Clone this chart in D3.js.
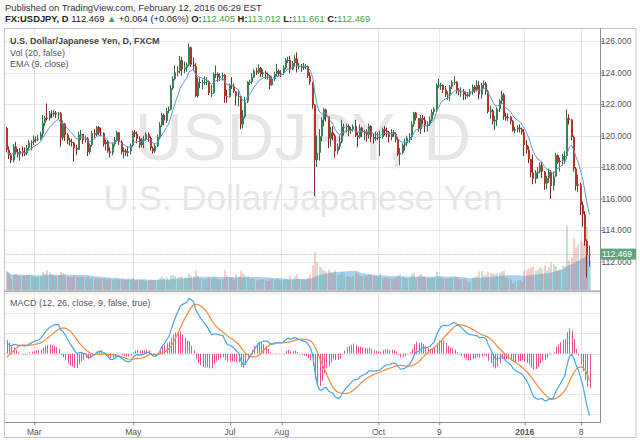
<!DOCTYPE html>
<html><head><meta charset="utf-8">
<script src="https://cdn.jsdelivr.net/npm/d3@7"></script>
<style>body{margin:0;background:#fff;}svg{display:block;font-family:"Liberation Sans",Arial,sans-serif;}</style>
</head><body><svg id="c" width="640" height="440"></svg>
<script>
// ---------------- data ----------------
const startDate = "2015-02-12";
const holidays = ["2015-12-25", "2016-01-01"];
const firstOpen = 120.48;
const close = [
119.10,118.75,118.42,119.30,118.95,118.80,119.00,118.90,118.88,119.22,119.55,119.60,
119.75,119.75,119.80,120.10,120.80, 121.12,121.10,121.40,121.35,121.45,
121.35,121.40,119.85,120.75,120.05, 119.70,119.60,119.55,119.20,119.10,
120.05,120.10,119.70,119.80,118.95, 119.40,120.15,120.05,120.55,120.20,
120.15,119.45,119.60,119.00,118.90, 119.45,119.70,120.20,119.60,118.95,
119.05,118.90,119.00,119.35,120.20, 120.10,119.80,119.40,119.75,119.75,
120.10,119.85,119.20,119.00,119.35, 119.90,120.65,121.30,120.95,121.55,
121.65,123.00,123.60,124.00,124.10, 124.80,124.20,124.30,124.50,125.60,
124.50,124.40,122.50,123.40,123.40, 123.40,123.40,123.45,122.70,122.70,
123.90,123.90,123.70,123.75,123.85, 122.50,122.45,123.20,123.15,122.80,
122.50,122.50,120.70,121.20,122.15, 123.40,123.40,123.70,124.10,124.00,
124.30,123.90,124.00,123.90,123.80, 123.20,123.60,123.90,124.10,123.90,
123.95,124.30,124.80,124.80,124.20, 124.60,124.90,124.40,124.40,124.30,
124.40,124.40,123.80,123.40,121.95, 118.45,118.90,119.95,121.00,121.65,
121.20,119.80,120.20,120.00,119.00, 119.30,119.60,120.55,120.55,120.60,
120.30,120.40,120.60,120.00,119.90, 120.50,120.20,120.20,120.05,120.60,
119.90,119.80,119.85,119.90,119.90, 120.40,120.30,120.20,119.90,120.20,
120.10,119.75,118.80,118.90,119.40, 119.50,119.85,119.90,120.70,121.45,
121.10,120.40,121.10,121.00,120.60, 120.70,121.00,121.50,121.70,123.20,
123.20,123.20,122.90,122.60,122.60, 123.10,123.40,123.40,122.90,122.80,
122.80,122.60,122.50,122.60,122.80, 123.10,122.90,123.20,122.60,123.20,
123.30,122.80,121.50,121.60,120.90, 121.00,121.70,122.20,122.60,121.20,
121.10,121.20,120.90,120.30, 120.40,120.50,120.40,120.20,
119.40,119.10,118.50,117.65,117.25, 117.65,117.70,118.10,117.70,116.95,
117.30,117.70,116.80,117.40,118.75, 118.30,118.40,118.70,118.70,121.10,
121.00,119.90,117.90,116.80,116.90, 115.60,115.00,113.30,112.405,112.469];
const high = [
120.55,119.30,118.90,119.45,119.60,119.15,119.20,119.30,119.25,119.40,119.70,119.70,
120.00,119.95,120.05,120.25,121.30, 121.25,122.03,121.55,121.60,121.60,
121.55,121.50,121.50,120.95,120.80, 120.15,119.85,119.80,119.60,119.40,
120.25,120.35,120.10,120.00,119.90, 119.50,120.30,120.40,120.60,120.60,
120.50,120.20,119.75,119.70,119.25, 119.55,119.90,120.30,120.20,119.70,
119.25,119.15,119.30,119.50,120.30, 120.35,120.25,119.95,119.85,120.00,
120.20,120.20,119.95,119.30,119.45, 120.05,120.85,121.45,121.40,121.75,
121.85,123.20,123.75,124.45,124.40, 125.05,125.00,124.70,124.65,125.86,
125.65,124.95,124.60,123.70,123.70, 123.55,123.75,123.70,123.50,123.20,
124.00,124.45,124.00,123.95,124.00, 123.90,122.90,123.30,123.70,123.30,
122.80,122.90,122.50,121.60,122.45, 123.45,123.55,123.95,124.20,124.30,
124.50,124.35,124.20,124.10,124.00, 123.85,123.75,124.05,124.55,124.20,
124.15,124.45,124.90,125.00,125.05, 124.75,125.10,125.28,124.60,124.55,
124.60,124.55,124.45,124.00,123.40, 122.00,120.00,120.40,121.15,121.75,
121.70,121.20,120.55,120.60,120.10, 119.50,120.00,121.00,120.75,120.75,
120.70,120.55,120.70,121.00,120.20, 120.70,120.55,120.35,120.40,120.75,
120.65,120.10,120.25,120.20,120.30, 120.50,120.60,120.50,120.30,120.40,
120.35,120.20,119.85,119.20,119.50, 119.80,120.00,120.15,120.90,121.50,
121.50,121.10,121.30,121.30,121.20, 120.90,121.20,121.65,121.80,123.30,
123.60,123.35,123.25,123.15,122.80, 123.20,123.50,123.76,123.45,123.00,
123.05,122.95,122.80,122.75,122.95, 123.25,123.20,123.50,123.45,123.35,
123.50,123.40,122.90,121.90,121.70, 121.25,121.80,122.30,122.85,122.70,
121.45,121.40,121.25,121.00, 120.55,120.65,120.70,120.50,
120.40,119.70,119.30,118.50,118.80, 117.80,118.00,118.30,118.35,117.75,
117.45,117.90,117.80,117.70,118.90, 118.80,118.60,118.85,119.00,121.65,
121.35,121.05,120.00,118.00,117.50, 117.00,115.80,115.20,113.40,113.012];
const low = [
118.95,118.50,118.25,118.30,118.80,118.60,118.40,118.65,118.70,118.75,119.10,119.05,
119.40,119.55,119.65,119.70,119.90, 120.60,120.95,120.95,121.10,121.20,
121.10,121.05,119.30,119.70,119.65, 119.45,119.35,119.30,118.35,118.75,
119.10,119.70,119.45,119.55,118.70, 118.80,119.30,119.85,119.95,120.05,
119.95,119.30,119.05,118.90,118.60, 118.75,119.30,119.60,119.40,118.80,
118.55,118.70,118.65,118.80,119.30, 119.90,119.50,119.20,119.25,119.20,
119.70,119.60,119.05,118.85,118.90, 119.25,119.80,120.55,120.65,120.80,
121.40,121.60,122.90,123.50,123.75, 123.95,123.80,123.95,124.05,124.40,
124.35,124.10,122.45,122.40,123.00, 122.95,123.20,123.20,122.55,122.45,
122.65,123.65,123.40,123.45,123.50, 122.10,122.10,122.40,122.95,122.70,
121.90,121.85,120.40,120.45,121.10, 122.05,123.20,123.25,123.65,123.85,
123.90,123.70,123.70,123.60,123.55, 122.95,123.15,123.45,123.75,123.75,
123.70,123.85,124.20,124.60,123.95, 124.15,124.40,124.00,124.20,124.05,
124.15,124.20,123.65,123.20,121.70, 116.15,118.00,118.40,119.65,120.60,
120.90,119.20,119.30,119.70,118.60, 118.80,119.10,119.50,120.00,120.20,
119.95,120.10,120.25,119.90,119.25, 119.80,119.90,119.70,119.60,119.80,
119.60,119.50,119.65,119.70,118.70, 119.80,120.00,119.90,119.55,119.70,
119.90,119.55,118.70,118.10,118.80, 119.05,119.30,119.55,119.70,120.55,
120.95,120.25,120.10,120.70,120.20, 120.25,120.60,120.90,121.30,121.50,
123.00,122.90,122.70,122.45,122.25, 122.20,122.95,123.20,122.65,122.55,
122.45,122.25,122.30,122.40,122.45, 122.60,122.70,122.80,122.30,122.30,
122.95,122.60,121.40,121.05,120.70, 120.35,120.60,121.50,122.00,121.00,
120.95,120.90,120.70,120.25, 120.15,120.20,120.20,120.05,
118.70,118.85,118.25,117.35,116.90, 116.95,117.25,117.60,117.30,116.55,
116.60,117.00,115.97,116.50,117.40, 118.20,117.70,118.10,118.20,118.50,
120.70,119.70,117.70,116.50,116.40, 114.95,114.20,113.00,110.98,111.661];
const volume = [
190,170,120,160,165,150,140,150,145,155,160,150,
140,135,140,150,185, 170,205,180,160,150,
140,150,185,175,160, 140,135,130,150,140,
135,140,130,125,145, 125,130,120,125,120,
115,120,110,115,110, 105,110,115,110,115,
100,105,110,105,125, 100,105,110,100,115,
95,100,110,105,100, 110,125,140,120,130,
100,150,155,145,130, 135,140,125,130,170,
145,140,200,150,120, 115,110,120,130,115,
140,120,110,105,110, 200,150,130,125,100,
160,140,200,170,150, 140,115,120,110,100,
105,110,110,100,95, 115,110,105,120,105,
100,105,120,110,150, 120,140,160,120,110,
110,105,130,160,250, 390,280,240,220,200,
190,210,180,170,200, 150,160,190,160,140,
140,130,150,180,170, 150,140,150,145,160,
155,145,140,135,170, 120,130,125,120,120,
115,130,150,160,145, 125,120,130,170,180,
130,150,165,140,140, 125,120,135,130,190,
140,130,125,120,115, 125,130,140,130,115,
110,115,110,80,90, 130,140,145,190,195,
150,160,190,175,170, 165,170,175,190,200,
130,120,110,70, 90,100,105,85,
200,210,220,230,240, 200,210,230,220,250,
200,230,280,260,240, 200,210,250,240,650,
300,330,520,430,460, 500,480,520,640,300];
// closes before the first visible bar (indicator history only)
const priorClose = [117.7,116.8,118.7,119.1,119.5,120.0,120.8,120.4,120.4,120.2,119.6,119.8,120.5,
119.6,118.5,119.2,119.7,118.5,118.6,117.9,117.2,116.1,117.5,117.5,118.9,118.0,118.5,117.7,118.3,
117.8,117.5,118.4,117.5,117.4,117.6,117.3,117.5,119.1,118.6,119.9,120.48];
const priceTicks = [112,114,116,118,120,122,124,126];
const priceTickLabels = ["112.000","114.000","116.000","118.000","120.000","122.000","124.000","126.000"];
const macdTicks = [-1.5,-1,-0.5,0,0.5,1,1.5];
const macdTickLabels = ["-1.5000","-1.0000","-0.5000","0.0000","0.5000","1.0000","1.5000"];
const timeTickDates = ["2015-03-02","2015-05-01","2015-07-01","2015-08-03","2015-10-01","2015-11-09","2016-01-04","2016-02-08"];
const timeTickLabels = ["Mar","May","Jul","Aug","Oct","9","2016","8"];
const lastPrice = 112.469;

// ---------------- derived ----------------
const dates = [];
{ let d = new Date(startDate + "T00:00:00Z");
  while (dates.length < close.length) {
    const s = d.toISOString().slice(0,10), w = d.getUTCDay();
    if (w !== 0 && w !== 6 && !holidays.includes(s)) dates.push(s);
    d = new Date(d.getTime() + 864e5);
  } }
const open = close.map((c,i) => i === 0 ? firstOpen : close[i-1]);
function ema(a,n){const k=2/(n+1);let p;return a.map((v,i)=>(p = i===0? v : v*k + p*(1-k)));}
function sma(a,n){return a.map((v,i)=>{const s=a.slice(Math.max(0,i-n+1),i+1);return d3.mean(s);});}
const allClose = priorClose.concat(close);
const e12 = ema(allClose,12), e26 = ema(allClose,26);
const macdAll = e12.map((v,i)=>v-e26[i]);
const sigAll = sma(macdAll,9);
const P = priorClose.length;
const macd = macdAll.slice(P), signal = sigAll.slice(P);
const hist = macd.map((v,i)=>v-signal[i]);
const ema9 = ema(allClose,9).slice(P);
const volMA = sma(volume,20);

// ---------------- layout ----------------
const svg = d3.select("#c");
const L = 4.5, R = 600.5, mainTop = 28.5, mainBot = 290.5, macdTop = 292, macdBot = 422.5;
const x = d3.scaleLinear().domain([0, close.length-1]).range([6.75, 6.75 + 2.25*(close.length-1)]);
const y = d3.scaleLinear().domain([112,126]).range([261.5,41]);
const yv = d3.scaleLinear().domain([0,700]).range([mainBot,220.5]);
const ym = d3.scaleLinear().domain([-1,1]).range([394,313.3]);

svg.append("rect").attr("width",640).attr("height",440).attr("fill","#fff");
const defs = svg.append("defs");
defs.append("clipPath").attr("id","cm").append("rect").attr("x",L).attr("y",mainTop).attr("width",R-L).attr("height",mainBot-mainTop);
defs.append("clipPath").attr("id","cd").append("rect").attr("x",L).attr("y",macdTop).attr("width",R-L).attr("height",macdBot-macdTop);
defs.append("clipPath").attr("id","cda").append("rect").attr("x",R).attr("y",macdTop).attr("width",40).attr("height",macdBot-macdTop+6);

// grid
const tickIdx = timeTickDates.map(d => dates.indexOf(d));
const grid = svg.append("g").attr("stroke","#e8e8e8").attr("stroke-width",1);
tickIdx.forEach(i => grid.append("line").attr("x1",Math.round(x(i))+0.5).attr("x2",Math.round(x(i))+0.5).attr("y1",mainTop).attr("y2",macdBot));
priceTicks.forEach(p => grid.append("line").attr("x1",L).attr("x2",R).attr("y1",Math.round(y(p))+0.5).attr("y2",Math.round(y(p))+0.5));
macdTicks.forEach(m => grid.append("line").attr("x1",L).attr("x2",R).attr("y1",Math.round(ym(m))+0.5).attr("y2",Math.round(ym(m))+0.5).attr("clip-path","url(#cd)"));

// watermark
svg.append("text").attr("x",303).attr("y",160).attr("text-anchor","middle").attr("font-size",66).attr("fill","#e6e6e6").text("USDJPY, D");
svg.append("text").attr("x",303).attr("y",210).attr("text-anchor","middle").attr("font-size",35).attr("fill","#e6e6e6").text("U.S. Dollar/Japanese Yen");

// volume
const gm = svg.append("g").attr("clip-path","url(#cm)");
gm.append("path").datum(volMA).attr("fill","rgba(80,165,225,0.5)").attr("stroke","none")
  .attr("d", d3.area().x((d,i)=>x(i)).y0(mainBot).y1(d=>yv(d)).curve(d3.curveLinear));
gm.selectAll("rect.v").data(volume).join("rect")
  .attr("x",(d,i)=>Math.round(x(i))-1).attr("width",2)
  .attr("y",d=>yv(d)).attr("height",d=>mainBot-yv(d))
  .attr("fill",(d,i)=> close[i] >= open[i] ? "rgba(107,165,131,0.35)" : "rgba(215,84,66,0.28)");

// dotted last price line
gm.append("line").attr("x1",L).attr("x2",R).attr("y1",Math.round(y(lastPrice))+0.5).attr("y2",Math.round(y(lastPrice))+0.5)
  .attr("stroke","#7fae93").attr("stroke-dasharray","1,2");

// candles
close.forEach((c,i)=>{
  const up = c >= open[i];
  const cx = Math.round(x(i));
  gm.append("line").attr("x1",cx-0.5).attr("x2",cx-0.5).attr("y1",y(high[i])).attr("y2",y(low[i]))
    .attr("stroke", up ? "#2d6a48" : "#7a2a22").attr("stroke-width",1);
  const t = y(Math.max(c,open[i])), b = y(Math.min(c,open[i]));
  gm.append("rect").attr("x",cx-1).attr("width",2).attr("y",t).attr("height",Math.max(1,b-t))
    .attr("fill", up ? "#3c7f59" : "#b3352b");
});
// EMA 9
gm.append("path").datum(ema9).attr("fill","none").attr("stroke","#5b97d0").attr("stroke-width",1)
  .attr("d", d3.line().x((d,i)=>x(i)).y(d=>y(d)));

// MACD pane
const gd = svg.append("g").attr("clip-path","url(#cd)");
gd.selectAll("line.h").data(hist).join("line")
  .attr("x1",(d,i)=>Math.round(x(i))+0.5).attr("x2",(d,i)=>Math.round(x(i))+0.5)
  .attr("y1",ym(0)).attr("y2",d=>ym(d)).attr("stroke","#ee4f97").attr("stroke-width",1);
gd.append("path").datum(signal).attr("fill","none").attr("stroke","#f28a3a").attr("stroke-width",1.2)
  .attr("d", d3.line().x((d,i)=>x(i)).y(d=>ym(d)));
gd.append("path").datum(macd).attr("fill","none").attr("stroke","#45a6e6").attr("stroke-width",1.2)
  .attr("d", d3.line().x((d,i)=>x(i)).y(d=>ym(d)));

// pane separator, frame and axes
svg.append("rect").attr("x",L).attr("y",290.5).attr("width",R-L).attr("height",1.5).attr("fill","#a9a9a9");
svg.append("rect").attr("x",L).attr("y",mainTop).attr("width",636-L).attr("height",437.5-mainTop).attr("fill","none").attr("stroke","#c4c4c4");
svg.append("line").attr("x1",R).attr("x2",R).attr("y1",mainTop).attr("y2",macdBot).attr("stroke","#8e8e8e");
svg.append("line").attr("x1",L).attr("x2",R).attr("y1",macdBot).attr("y2",macdBot).attr("stroke","#8e8e8e");

// price axis (d3 axis)
const ax = svg.append("g").attr("transform",`translate(${R},0)`)
  .call(d3.axisRight(y).tickValues(priceTicks).tickFormat((d,i)=>priceTickLabels[i]).tickSize(3).tickPadding(28));
ax.select(".domain").remove();
ax.selectAll("line").attr("stroke","#8e8e8e");
ax.selectAll("text").attr("text-anchor","end").attr("font-size",8.5).attr("fill","#555").attr("font-family","Liberation Sans, Arial");

// last price label (drawn over the 112.000 label, as in the original)
svg.append("rect").attr("x",R+0.5).attr("y",y(lastPrice)-5.5).attr("width",35).attr("height",11).attr("fill","#5fa57e");
svg.append("text").attr("x",632).attr("y",y(lastPrice)+3).attr("text-anchor","end").attr("font-size",8.5).attr("fill","#fff").text(lastPrice.toFixed(3));

const am = svg.append("g").attr("transform",`translate(${R},0)`).attr("clip-path","url(#cda)")
  .call(d3.axisRight(ym).tickValues(macdTicks).tickFormat((d,i)=>macdTickLabels[i]).tickSize(3).tickPadding(28));
am.select(".domain").remove();
am.selectAll("line").attr("stroke","#8e8e8e");
am.selectAll("text").attr("text-anchor","end").attr("font-size",8.5).attr("fill","#555").attr("font-family","Liberation Sans, Arial");

// time axis
const xt = svg.append("g").attr("transform",`translate(0,${macdBot})`)
  .call(d3.axisBottom(x).tickValues(tickIdx).tickFormat((d,i)=>timeTickLabels[i]).tickSize(3).tickPadding(3));
xt.select(".domain").remove();
xt.selectAll("line").attr("stroke","#8e8e8e").attr("transform","translate(0.5,0)");
xt.selectAll("text").attr("font-size",8.5).attr("fill","#555").attr("font-family","Liberation Sans, Arial")
  .attr("font-weight",(d,i)=> timeTickLabels[i]==="2016" ? "bold" : "normal");

// legends
const lg = svg.append("g").attr("font-size",9).attr("fill","#555");
lg.append("text").attr("x",10).attr("y",44).attr("font-weight","bold").attr("fill","#444").text("U.S. Dollar/Japanese Yen, D, FXCM");
lg.append("text").attr("x",10).attr("y",56).text("Vol (20, false)");
lg.append("text").attr("x",10).attr("y",67).text("EMA (9, close)");
lg.append("text").attr("x",10).attr("y",306).text("MACD (12, 26, close, 9, false, true)");

// header
svg.append("text").attr("x",5).attr("y",11).attr("font-size",9.4).attr("fill","#333").text("Published on TradingView.com, February 12, 2016 06:29 EST");
const h2 = svg.append("text").attr("x",5).attr("y",22).attr("font-size",9.4).attr("fill","#222");
h2.append("tspan").attr("font-weight","bold").text("FX:USDJPY, D ");
h2.append("tspan").text("112.469 ");
h2.append("tspan").attr("fill","#3fa34d").text("▲");
h2.append("tspan").text(" +0.064 (+0.06%) ");
[["O:","112.405"],["H:","113.012"],["L:","111.661"],["C:","112.469"]].forEach(([k,v],i)=>{
  h2.append("tspan").attr("font-weight","bold").text((i? " ":"")+k);
  h2.append("tspan").attr("fill","#3fa34d").text(v);
});
</script></body></html>
